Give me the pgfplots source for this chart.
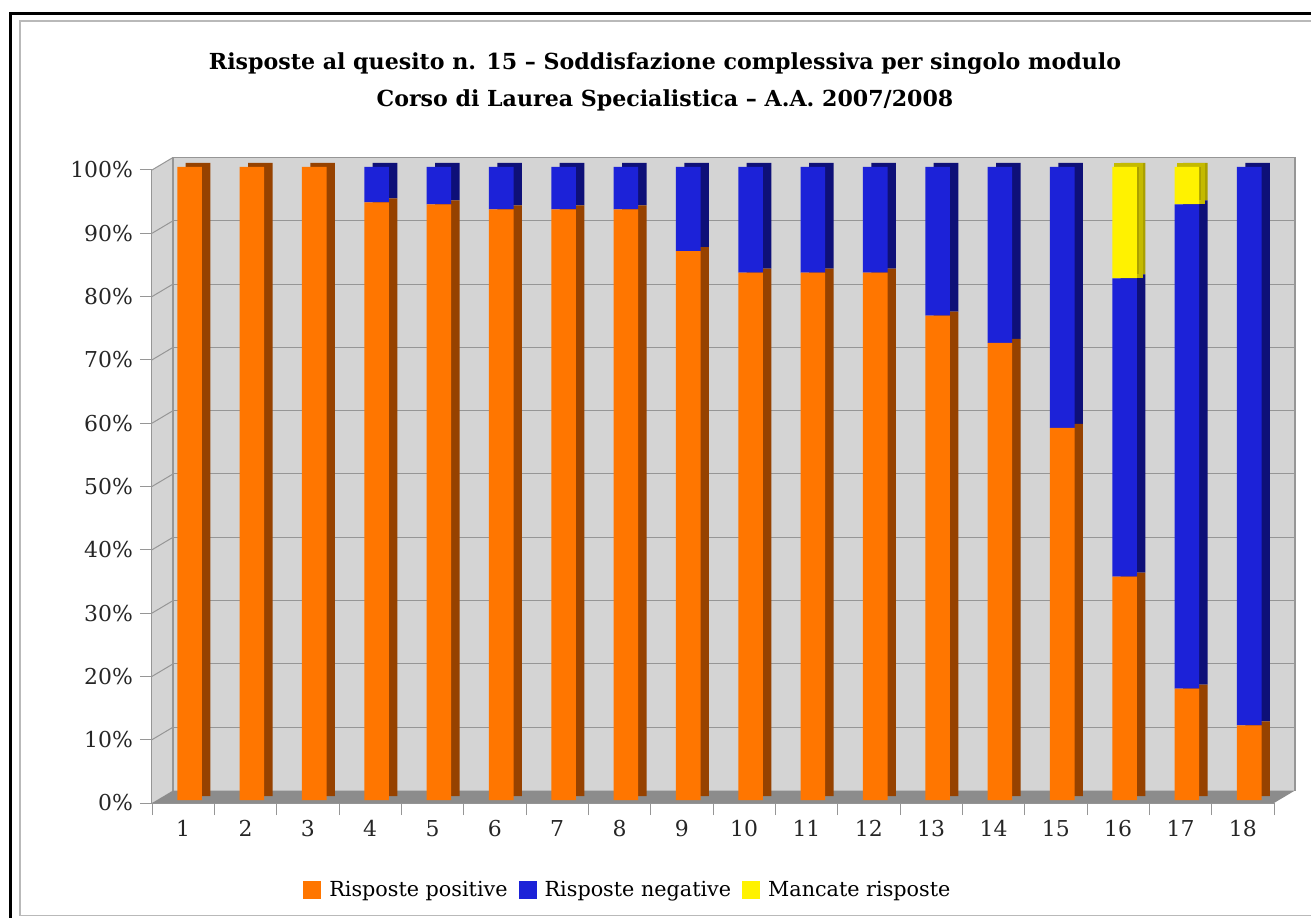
\documentclass[border=0pt]{standalone}
\usepackage{fontspec}
\setmainfont{DejaVu Serif}
\usepackage{pgfplots}
\usepackage{pgfplotstable}
\pgfplotsset{compat=1.18}
\definecolor{cOr}{RGB}{255,118,0}
\definecolor{cOrD}{RGB}{150,66,0}
\definecolor{cBl}{RGB}{28,34,216}
\definecolor{cBlD}{RGB}{14,16,120}
\definecolor{cYe}{RGB}{255,242,0}
\definecolor{cYeD}{RGB}{170,160,0}
\definecolor{cTop}{RGB}{196,186,0}
\definecolor{wallc}{RGB}{212,212,212}
\definecolor{floorc}{RGB}{140,140,140}
\definecolor{gridc}{RGB}{150,150,150}

\pgfplotstableread{
x pos neg man
1 100 0 0
2 100 0 0
3 100 0 0
4 94.4 5.6 0
5 94.1 5.9 0
6 93.3 6.7 0
7 93.3 6.7 0
8 93.3 6.7 0
9 86.7 13.3 0
10 83.3 16.7 0
11 83.3 16.7 0
12 83.3 16.7 0
13 76.5 23.5 0
14 72.2 27.8 0
15 58.8 41.2 0
16 35.3 47.1 17.6
17 17.6 76.5 5.9
18 11.8 88.2 0
}\data

\pgfplotsset{base/.style={scale only axis, width=561bp, height=316.5bp,
  xmin=0.5, xmax=18.5, ymin=0, ymax=100, clip=false}}

\begin{document}
\begin{tikzpicture}
\useasboundingbox (-76bp,-57.5bp) rectangle (579.5bp,401.5bp);
% page frame
\draw[black, line width=1.5bp] (-70.75bp,-60bp) -- (-70.75bp,394.75bp) -- (582bp,394.75bp);
\draw[gray!55, line width=0.8bp] (582bp,391bp) -- (-66bp,391bp) -- (-66bp,-56.25bp) -- (582bp,-56.25bp);
% title
\node[align=center, font=\bfseries\fontsize{11.1}{18.5}\selectfont] at (256.5bp,360.5bp)
  {Risposte al quesito n. 15 -- Soddisfazione complessiva per singolo modulo\\Corso di Laurea Specialistica -- A.A. 2007/2008};

% main axis: walls, floor, grid, ticks, legend
\begin{axis}[base,
  axis x line*=bottom, axis y line*=left,
  axis line style={draw=gridc, line width=0.6bp},
  tick align=outside,
  tick style={draw=gridc, line width=0.5bp},
  major tick length=6bp,
  ytick={0,10,...,100},
  yticklabel={\pgfmathprintnumber{\tick}\%},
  xtick={0.5,1.5,...,18.5}, xticklabels={},
  extra x ticks={1,2,...,18},
  extra x tick labels={1,2,3,4,5,6,7,8,9,10,11,12,13,14,15,16,17,18},
  extra x tick style={major tick length=0pt, tick style={draw=none}},
  xticklabel style={yshift=-5bp},
  /pgf/number format/assume math mode=true,
  tick label style={font=\fontsize{11}{13}\selectfont, text=black!85},
  legend style={at={(0.425,-0.138)}, anchor=center, draw=none, fill=none,
    legend columns=3, font=\fontsize{10.4}{13}\selectfont,
    /tikz/every even column/.append style={column sep=3.5bp},
    legend cell align=left},
  legend image code/.code={\fill[#1] (0bp,-4.5bp) rectangle (9bp,4.5bp); \path (11bp,0bp);},
]
% back wall
\fill[wallc] ([shift={(10.5bp,6.25bp)}]axis cs:0.5,0) rectangle ([shift={(10.5bp,6.25bp)}]axis cs:18.5,100);
% left wall
\fill[wallc] (axis cs:0.5,0) -- (axis cs:0.5,100) -- ([shift={(10.5bp,6.25bp)}]axis cs:0.5,100) -- ([shift={(10.5bp,6.25bp)}]axis cs:0.5,0) -- cycle;
% grid
\pgfplotsinvokeforeach{10,20,...,100}{
  \draw[gridc, line width=0.5bp] ([shift={(10.5bp,6.25bp)}]axis cs:0.5,#1) -- ([shift={(10.5bp,6.25bp)}]axis cs:18.5,#1);
  \draw[gridc, line width=0.5bp] (axis cs:0.5,#1) -- ([shift={(10.5bp,6.25bp)}]axis cs:0.5,#1);
}
\draw[gridc, line width=0.6bp] ([shift={(10.5bp,6.25bp)}]axis cs:0.5,0) -- ([shift={(10.5bp,6.25bp)}]axis cs:0.5,100);
\draw[gridc, line width=0.6bp] ([shift={(10.5bp,6.25bp)}]axis cs:18.5,0) -- ([shift={(10.5bp,6.25bp)}]axis cs:18.5,100);
% floor
\fill[floorc] (axis cs:0.5,0) -- (axis cs:18.5,0) -- ([shift={(10.5bp,6.25bp)}]axis cs:18.5,0) -- ([shift={(10.5bp,6.25bp)}]axis cs:0.5,0) -- cycle;
\addlegendimage{fill=cOr, draw=none}\addlegendentry{Risposte positive}
\addlegendimage{fill=cBl, draw=none}\addlegendentry{Risposte negative}
\addlegendimage{fill=cYe, draw=none}\addlegendentry{Mancate risposte}
\end{axis}

% back copy of the bars (depth)
\begin{axis}[base, at={(4.2bp,3.5bp)}, hide axis, ybar stacked, bar width=12.3bp, bar shift=3.2bp]
\addplot[fill=cOrD, draw=none] table[x=x,y=pos]{\data};
\addplot[fill=cBlD, draw=none] table[x=x,y=neg]{\data};
\addplot[fill=cYeD, draw=none] table[x=x,y=man]{\data};
\end{axis}

% top faces (outline of the last segment, half depth)
\begin{axis}[base, at={(2.1bp,2.5bp)}, hide axis, ybar stacked, bar width=12.3bp, bar shift=3.2bp]
\addplot[fill=none, draw=none] table[x=x,y=pos]{\data};
\addplot[fill=none, draw=none] table[x=x,y=neg]{\data};
\addplot[fill=none, draw=cTop, line width=2bp] table[x=x,y=man]{\data};
\end{axis}

% front faces
\begin{axis}[base, at={(0bp,1.5bp)}, hide axis, ybar stacked, bar width=12.3bp, bar shift=3.2bp]
\addplot[fill=cOr, draw=none] table[x=x,y=pos]{\data};
\addplot[fill=cBl, draw=none] table[x=x,y=neg]{\data};
\addplot[fill=cYe, draw=none] table[x=x,y=man]{\data};
\end{axis}
\end{tikzpicture}
\end{document}
